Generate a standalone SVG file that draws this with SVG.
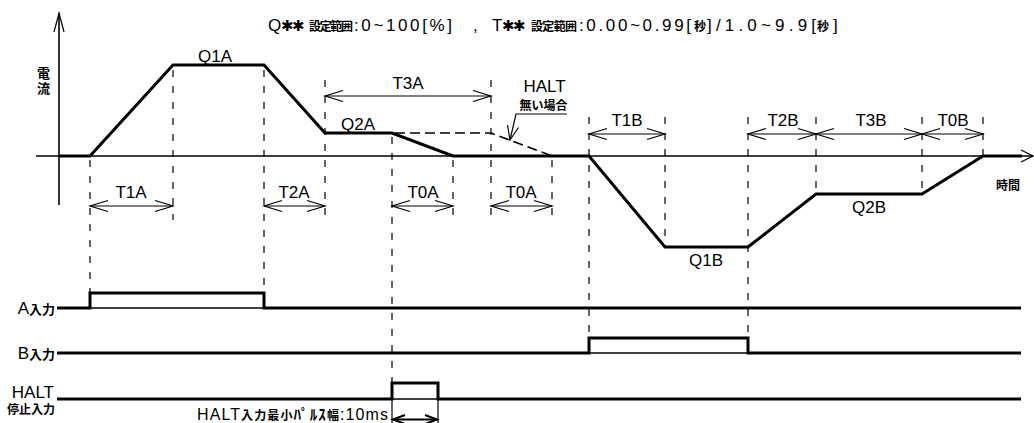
<svg xmlns="http://www.w3.org/2000/svg" width="1034" height="423" viewBox="0 0 1034 423">
<style>
.t{font-family:"Liberation Sans","Noto Sans CJK JP",sans-serif;font-size:17px;fill:#000}
.c{font-family:"Noto Sans CJK JP",sans-serif;font-weight:bold;font-size:12px;fill:#000}
.c13{font-size:13px}
.vert{writing-mode:vertical-rl;letter-spacing:2px}
.ast{font-family:"DejaVu Sans",sans-serif;font-size:15px}
.cm{text-anchor:middle}
.ce{text-anchor:end}
.thin{fill:none;stroke:#000;stroke-width:1.2}
.thick{fill:none;stroke:#000;stroke-width:3;stroke-linejoin:miter}
.base{fill:none;stroke:#000;stroke-width:1.6}
.dash{fill:none;stroke:#000;stroke-width:1.2;stroke-dasharray:7 9}
.hdash{fill:none;stroke:#000;stroke-width:1.6;stroke-dasharray:10 5}
.dim{fill:none;stroke:#000;stroke-width:1.2;marker-start:url(#oa);marker-end:url(#oa)}
</style>
<defs>
<marker id="oa" markerUnits="userSpaceOnUse" markerWidth="22" markerHeight="14" viewBox="-20 -7 22 14" refX="0" refY="0" orient="auto-start-reverse" overflow="visible">
<path d="M-18,-5.5 L0,0 L-18,5.5" fill="none" stroke="#000" stroke-width="1.2"/>
</marker>
<marker id="sa" markerUnits="userSpaceOnUse" markerWidth="16" markerHeight="12" viewBox="-14 -6 16 12" refX="0" refY="0" orient="auto-start-reverse" overflow="visible">
<path d="M-12,-4.5 L0,0 L-12,4.5" fill="none" stroke="#000" stroke-width="2"/>
</marker>
</defs>

<g id="title">
<text class="t" y="31"><tspan x="268">Q</tspan><tspan class="ast" x="281">✱</tspan><tspan class="ast" x="292">✱</tspan><tspan class="c" x="309" textLength="44">設定範囲</tspan><tspan x="354" textLength="98">:0~100[%]</tspan><tspan x="473">,</tspan><tspan x="492">T</tspan><tspan class="ast" x="502">✱</tspan><tspan class="ast" x="513">✱</tspan><tspan class="c" x="531" textLength="46">設定範囲</tspan><tspan x="579" textLength="112">:0.00~0.99[</tspan><tspan class="c" x="694">秒</tspan><tspan x="707" textLength="109">]/1.0~9.9[</tspan><tspan class="c" x="817">秒</tspan><tspan x="833">]</tspan></text>
</g>

<g id="axes">
<line class="base" x1="59" y1="13" x2="59" y2="205" stroke-width="2"/>
<path class="thin" d="M54,32 L59,13 L64,32"/>
<line class="base" x1="36" y1="156" x2="1033" y2="156"/>
<path class="thin" d="M1021,150 L1033,156 L1021,162"/>
<text class="c c13 vert" x="43.5" y="67">電流</text>
<text class="c cm" x="1008" y="190">時間</text>
</g>

<g id="connectors">
<g id="guides">
<line class="dash" x1="90" y1="160" x2="90" y2="292"/>
<line class="dash" x1="173" y1="70" x2="173" y2="220"/>
<line class="dash" x1="264" y1="70" x2="264" y2="292"/>
<line class="dash" x1="325" y1="80" x2="325" y2="220"/>
<line class="dash" x1="392" y1="137" x2="392" y2="383"/>
<line class="dash" x1="453" y1="160" x2="453" y2="220"/>
<line class="dash" x1="491" y1="80" x2="491" y2="220"/>
<line class="dash" x1="552" y1="160" x2="552" y2="220"/>
<line class="dash" x1="589" y1="117" x2="589" y2="338"/>
<line class="dash" x1="665" y1="117" x2="665" y2="247"/>
<line class="dash" x1="748" y1="117" x2="748" y2="338"/>
<line class="dash" x1="816" y1="117" x2="816" y2="194"/>
<line class="dash" x1="922" y1="117" x2="922" y2="194"/>
<line class="dash" x1="983" y1="117" x2="983" y2="156"/>
</g>
<g id="dimensions">
<line class="dim" x1="90" y1="206" x2="173" y2="206"/>
<line class="dim" x1="264" y1="206" x2="325" y2="206"/>
<line class="dim" x1="392" y1="206" x2="453" y2="206"/>
<line class="dim" x1="491" y1="206" x2="552" y2="206"/>
<line class="dim" x1="325" y1="96" x2="491" y2="96"/>
<line class="dim" x1="589" y1="134" x2="665" y2="134"/>
<line class="dim" x1="748" y1="134" x2="816" y2="134"/>
<line class="dim" x1="816" y1="134" x2="922" y2="134"/>
<line class="dim" x1="922" y1="134" x2="983" y2="134"/>
</g>
<g id="halt-leader">
<path class="thin" d="M567,114 L516,114 L510,140"/>
<path class="thin" d="M507.5,125 L510,140 L518.5,127.5"/>
</g>
<g id="pulse-width">
<line class="thin" x1="392" y1="399" x2="392" y2="423"/>
<line class="thin" x1="438" y1="399" x2="438" y2="423"/>
<line x1="393" y1="419.5" x2="437" y2="419.5" stroke="#000" stroke-width="2" marker-start="url(#sa)" marker-end="url(#sa)"/>
</g>
</g>

<g id="current">
<polyline class="thick" points="59,156 90,156 173,65 264,65 325,133 392,133 453,156 589,156 665,247 748,247 816,194 922,194 983,156 1022,156"/>
<polyline class="hdash" points="395,133 491,133 552,156"/>
</g>

<g id="current-labels">
<text class="t cm" x="215" y="62">Q1A</text>
<text class="t cm" x="358" y="130">Q2A</text>
<text class="t cm" x="706" y="266">Q1B</text>
<text class="t cm" x="869" y="213">Q2B</text>
<text class="t cm" x="131" y="198">T1A</text>
<text class="t cm" x="294" y="198">T2A</text>
<text class="t cm" x="423" y="198">T0A</text>
<text class="t cm" x="521" y="198">T0A</text>
<text class="t cm" x="408" y="89">T3A</text>
<text class="t cm" x="627" y="126">T1B</text>
<text class="t cm" x="783" y="126">T2B</text>
<text class="t cm" x="871" y="126">T3B</text>
<text class="t cm" x="953" y="126">T0B</text>
<text class="t cm" x="544.5" y="92">HALT</text>
<text class="c cm" x="543.5" y="110">無い場合</text>
</g>

<g id="a-input">
<polyline class="thick" points="57,308 90,308 90,293 264,293 264,308 1021,308"/>
<line class="base" x1="90" y1="308" x2="264" y2="308"/>
<text class="t ce" x="55" y="314">A<tspan class="c c13">入力</tspan></text>
</g>

<g id="b-input">
<polyline class="thick" points="57,353 589,353 589,338 748,338 748,353 1021,353"/>
<line class="base" x1="589" y1="353" x2="748" y2="353"/>
<text class="t ce" x="55" y="359">B<tspan class="c c13">入力</tspan></text>
</g>

<g id="halt-input">
<polyline class="thick" points="57,399 392,399 392,383 438,383 438,399 1021,399"/>
<line class="base" x1="392" y1="399" x2="438" y2="399"/>
<text class="t ce" x="54" y="398">HALT</text>
<text class="c ce" x="55" y="414">停止入力</text>
<text class="t" x="197" y="420" style="font-size:16px" textLength="191" lengthAdjust="spacing">HALT<tspan class="c">入力最小</tspan><tspan class="c" style="font-size:15px">ﾊﾟﾙｽ</tspan><tspan class="c">幅</tspan>:10ms</text>
</g>
</svg>
